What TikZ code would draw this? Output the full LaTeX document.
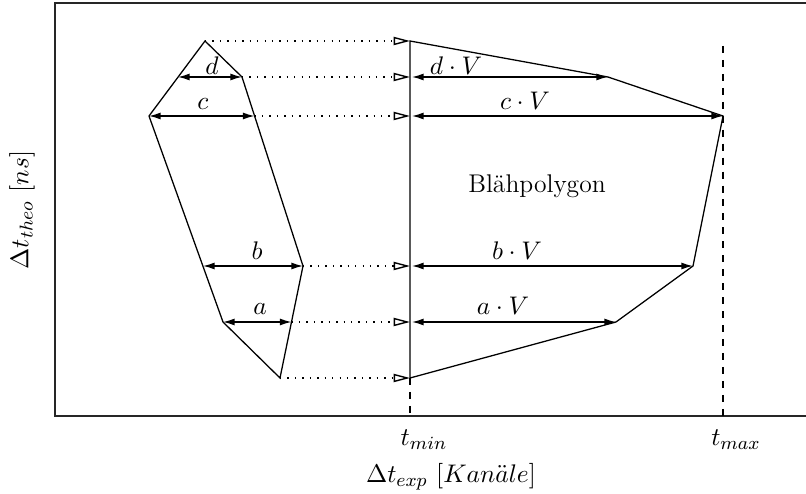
\documentclass[tikz,border=0pt]{standalone}
\usetikzlibrary{arrows.meta}
\begin{document}
\begin{tikzpicture}[x=0.43pt,y=-0.43pt,
  edge/.style={line width=0.55pt, line join=miter},
  frame/.style={line width=0.8pt, draw=black!85},
  dim/.style={line width=0.55pt,{Latex[length=5pt,width=3pt]}-{Latex[length=5pt,width=3pt]}},
  proj/.style={line width=0.6pt, dash pattern=on 0.6pt off 2.6pt, -{Triangle[open,length=7pt,width=3.5pt]}},
  guide/.style={line width=0.55pt, dash pattern=on 3pt off 3pt},
  mfont/.style={font=\fontsize{11}{13}\selectfont},
  lbl/.style={mfont, anchor=base, inner sep=0pt}]
\useasboundingbox (0,0) rectangle (806,494);
% frame
\coordinate (F1) at (806,3);
\coordinate (F2) at (55,3);
\coordinate (F3) at (55,416);
\coordinate (F4) at (806,416);
\draw[frame] (F1) -- (F2) -- (F3) -- (F4);
% left polygon
\coordinate (L1) at (205,41);
\coordinate (L2) at (242,77);
\coordinate (L3) at (303,266);
\coordinate (L4) at (280,378);
\coordinate (L5) at (223,322);
\coordinate (L6) at (149,116);
\coordinate (Ld) at (178,77);
\coordinate (Lc) at (254.5,116);
\coordinate (Lb) at (203,266);
\coordinate (La) at (291.5,322);
\draw[edge] (L1) -- (L2) -- (L3) -- (L4) -- (L5) -- (L6) -- cycle;
% right polygon
\coordinate (R1) at (410,41);
\coordinate (R2) at (608,77);
\coordinate (R3) at (723,116);
\coordinate (R4) at (693,266);
\coordinate (R5) at (616,322);
\coordinate (R6) at (410,378);
\draw[edge] (R1) -- (R2) -- (R3) -- (R4) -- (R5) -- (R6) -- cycle;
% projection targets
\coordinate (T1) at (410,41);
\coordinate (T2) at (410,77);
\coordinate (T3) at (410,116);
\coordinate (T4) at (410,266);
\coordinate (T5) at (410,322);
\coordinate (T6) at (410,378);
\draw[proj] (L1) -- (T1);
\draw[proj] (L2) -- (T2);
\draw[proj] (Lc) -- (T3);
\draw[proj] (L3) -- (T4);
\draw[proj] (La) -- (T5);
\draw[proj] (L4) -- (T6);
% dimension arrows left
\draw[dim] (Ld) -- (L2);
\draw[dim] (L6) -- (Lc);
\draw[dim] (Lb) -- (L3);
\draw[dim] (L5) -- (La);
% dimension arrows right
\coordinate (S2) at (412,77);
\coordinate (S3) at (412,116);
\coordinate (S4) at (412,266);
\coordinate (S5) at (412,322);
\draw[dim] (S2) -- (R2);
\draw[dim] (S3) -- (R3);
\draw[dim] (S4) -- (R4);
\draw[dim] (S5) -- (R5);
% guides
\coordinate (Gmin) at (410,416);
\coordinate (Gtop) at (723,46);
\coordinate (Gmax) at (723,416);
\draw[guide] (R6) -- (Gmin);
\draw[guide] (Gtop) -- (Gmax);
% labels
\node[lbl] (ld) at (212,75) {$d$};
\node[lbl] (lc) at (203,110) {$c$};
\node[lbl] (lb) at (257,260) {$b$};
\node[lbl] (la) at (260,315) {$a$};
\node[lbl] (ldV) at (456,75) {$d\cdot V$};
\node[lbl] (lcV) at (525,110) {$c\cdot V$};
\node[lbl] (lbV) at (517,260) {$b\cdot V$};
\node[lbl] (laV) at (503,315) {$a\cdot V$};
\node[mfont] (bp) at (537,186) {Blähpolygon};
\node[mfont] (tmin) at (424,440) {$t_{min}$};
\node[mfont] (tmax) at (736,440) {$t_{max}$};
\node[mfont] (xl) at (451,477) {$\Delta t_{exp}$ $[Kan\ddot{a}le]$};
\node[mfont, rotate=90] (yl) at (22,210) {$\Delta t_{theo}$ $[ns]$};
\end{tikzpicture}
\end{document}
